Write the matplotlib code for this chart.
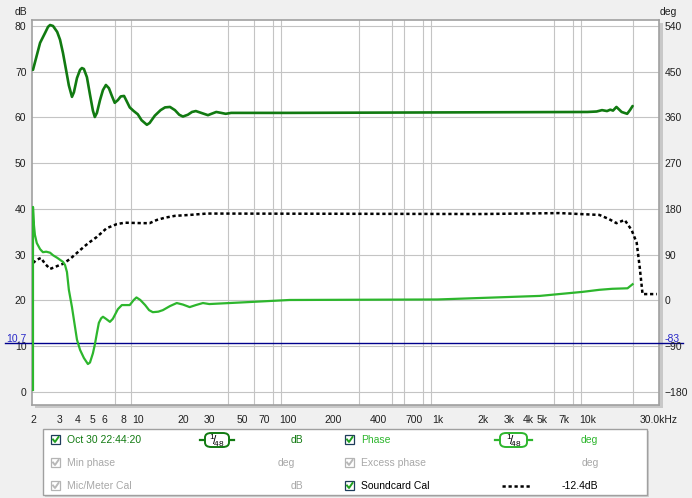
import numpy as np
import matplotlib
matplotlib.use("Agg")
import matplotlib.pyplot as plt
from matplotlib.patches import Rectangle, FancyBboxPatch
from matplotlib.lines import Line2D
from matplotlib.ticker import FixedLocator, LogLocator, NullFormatter

plt.rcParams['font.family'] = ['Liberation Sans', 'DejaVu Sans']

# ---- data ----
# SPL measurement (left axis, dB)
spl_freq = [2.0, 2.23, 2.41, 2.52, 2.6, 2.72, 2.9, 3.03, 3.17, 3.32, 3.47, 3.64, 3.75,
            3.93, 4.12, 4.24, 4.37, 4.58, 4.8, 5.02, 5.17, 5.34, 5.6, 5.86, 6.13, 6.42,
            6.72, 7.02, 7.37, 7.7, 8.1, 8.45, 8.84, 9.4, 10.0, 10.6, 11.5, 12.0, 13.0,
            14.2, 15.2, 16.4, 17.7, 18.9, 20.0, 21.6, 23.0, 24.4, 26.5, 29.4, 31.0,
            33.4, 36.0, 38.6, 42, 100, 1000, 10000, 11500, 12500, 13500, 14200,
            14800, 15600, 16900, 18400, 19200, 20000]
spl_db = [70.4, 76.3, 78.5, 79.8, 80.2, 80.0, 78.7, 77.0, 74.1, 70.5, 67.0, 64.5, 65.5,
          68.6, 70.4, 70.8, 70.6, 68.8, 65.0, 61.5, 60.1, 61.0, 63.8, 66.0, 67.1, 66.4,
          64.7, 63.2, 63.8, 64.6, 64.7, 63.5, 62.2, 61.4, 60.7, 59.4, 58.4, 58.8, 60.4,
          61.6, 62.2, 62.3, 61.6, 60.6, 60.2, 60.6, 61.2, 61.4, 61.0, 60.5, 60.8,
          61.2, 61.0, 60.8, 61.0, 61.0, 61.1, 61.2, 61.3, 61.6, 61.4, 61.7,
          61.5, 62.3, 61.2, 60.8, 61.6, 62.5]

# Phase (right axis, degrees)
phase_freq = [2.0, 2.0, 2.0, 2.03, 2.06, 2.12, 2.23, 2.33, 2.45, 2.6, 2.72, 2.9, 3.03,
              3.17, 3.27, 3.37, 3.47, 3.64, 3.8, 3.93, 4.12, 4.37, 4.65, 4.8, 5.02,
              5.17, 5.34, 5.5, 5.7, 5.86, 6.13, 6.52, 6.82, 7.02, 7.37, 7.83, 8.3,
              8.84, 9.4, 9.8, 10.4, 11.2, 11.9, 12.6, 13.7, 14.7, 16.4, 18.2, 20.0,
              22.2, 24.4, 27.2, 30, 35, 48, 103, 1000, 4800, 9300, 12000, 14600,
              18500, 20000]
phase_deg = [-176, -147, 184, 148, 129, 113, 101, 95, 96, 94, 89, 84, 80,
             76, 70, 56, 21, -13, -49, -77, -97, -113, -125, -122, -104,
             -87, -64, -44, -35, -32, -36, -42, -36, -29, -17, -9, -9,
             -9, 1, 6, 1, -9, -19, -23, -22, -19, -11, -5, -8,
             -13, -9, -5, -7, -6, -4, 1, 2, 9, 17, 21, 23,
             24, 32]

# Soundcard calibration (left axis, dB)
cal_freq = [2.0, 2.12, 2.26, 2.41, 2.6, 2.8, 3.03, 3.17, 3.54, 3.93, 4.43, 4.8, 5.34,
            6.2, 7.26, 8.2, 10.8, 12.0, 13.4, 15.2, 17.7, 22.2, 28.9, 2000, 6500,
            12000, 13900, 15600, 17700, 19700, 21300, 22300, 23300, 29000]
cal_db = [28.2, 28.9, 29.3, 28.0, 26.9, 27.3, 27.8, 28.0, 29.1, 30.4, 31.9, 32.8, 33.9,
          35.8, 36.7, 37.0, 36.9, 36.9, 37.6, 38.1, 38.5, 38.7, 39.0, 38.9, 39.1,
          38.7, 37.8, 36.9, 37.6, 35.4, 32.6, 27.3, 21.4, 21.4]

marker_db = 10.7
marker_deg = -83

x_ticks = [2, 3, 4, 5, 6, 8, 10, 20, 30, 50, 70, 100, 200, 400, 700, 1000, 2000,
           3000, 4000, 5000, 7000, 10000, 30000]
x_labels = ['2', '3', '4', '5', '6', '8', '10', '20', '30', '50', '70', '100', '200',
            '400', '700', '1k', '2k', '3k', '4k', '5k', '7k', '10k', '30.0kHz']
db_ticks = [0, 10, 20, 30, 40, 50, 60, 70, 80]
deg_ticks = [-180, -90, 0, 90, 180, 270, 360, 450, 540]

SPL_COL = '#117a11'
PH_COL = '#2db62d'
GRID = '#c4c4c4'
FS = 7.5

W, H = 692, 498
fig = plt.figure(figsize=(W / 100, H / 100), dpi=100, facecolor='#f0f0f0')


def fx(x):
    return x / W


def fy(y):
    return 1 - y / H


# frame shadow
fig.patches.append(Rectangle((fx(35), fy(408)), (663 - 35) / W, (408 - 23) / H,
                             transform=fig.transFigure, facecolor='#c8c8c8',
                             edgecolor='none', zorder=-1))

ax = fig.add_axes([fx(32), fy(405), (659 - 32) / W, (405 - 20) / H])
ax.set_facecolor('white')
ax.set_xscale('log')
ax.set_xlim(1.97, 30000)
lo, hi = -2.84, 81.3
ax.set_ylim(lo, hi)

ax.xaxis.set_major_locator(FixedLocator(x_ticks))
ax.set_xticklabels(x_labels)
ax.xaxis.set_minor_locator(LogLocator(base=10, subs=np.arange(1, 10), numticks=50))
ax.xaxis.set_minor_formatter(NullFormatter())
ax.set_yticks(db_ticks)
ax.tick_params(which='both', length=0, labelsize=FS, colors='#202020')
ax.tick_params(axis='x', pad=7)
ax.tick_params(axis='y', pad=4)
ax.grid(which='minor', axis='x', color=GRID, lw=0.8)
ax.grid(which='major', axis='y', color=GRID, lw=0.8)
for s in ax.spines.values():
    s.set_color('#a0a0a0')
    s.set_linewidth(1.2)

ax.plot(cal_freq, cal_db, color='black', lw=1.8, ls=(0, (1.3, 1.1)), zorder=3)
ax.plot(spl_freq, spl_db, color=SPL_COL, lw=1.9, zorder=4,
        solid_capstyle='round', solid_joinstyle='round')

ax2 = ax.twinx()
ax2.set_ylim(9 * lo - 180, 9 * hi - 180)
ax2.set_yticks(deg_ticks)
ax2.tick_params(length=0, labelsize=FS, colors='#202020', pad=4)
for s in ax2.spines.values():
    s.set_visible(False)
ax2.plot(phase_freq, phase_deg, color=PH_COL, lw=1.6, zorder=4,
         solid_joinstyle='round')

# marker line
ax.axhline(marker_db, xmin=(5 - 32) / 627, xmax=(683 - 32) / 627, color='#00008c',
           lw=1, clip_on=False, zorder=5)
ax.annotate('%.1f' % marker_db, xy=(0, marker_db), xycoords=('axes fraction', 'data'),
            xytext=(-4, -1), textcoords='offset points', ha='right', va='bottom',
            color='#2828c8', fontsize=FS)
ax2.annotate('%d' % marker_deg, xy=(1, marker_deg), xycoords=('axes fraction', 'data'),
             xytext=(4, -1), textcoords='offset points', ha='left', va='bottom',
             color='#2828c8', fontsize=FS)

fig.text(fx(15), fy(12), 'dB', fontsize=FS, va='center', ha='left', color='#202020')
fig.text(fx(660), fy(12), 'deg', fontsize=FS, va='center', ha='left', color='#202020')

# ---- legend panel ----
fig.patches.append(Rectangle((fx(45), fy(497)), (649 - 45) / W, (497 - 431) / H,
                             transform=fig.transFigure, facecolor='#d0d0d0',
                             edgecolor='none', zorder=1))
fig.patches.append(Rectangle((fx(43), fy(495)), (647 - 43) / W, (495 - 429) / H,
                             transform=fig.transFigure, facecolor='white',
                             edgecolor='#a0a0a0', lw=1, zorder=2))


def checkbox(x, y, active):
    edge = '#1e3c5a' if active else '#b4b4b4'
    tick = '#1fa01f' if active else '#b8b8b8'
    fig.patches.append(Rectangle((fx(x), fy(y + 9)), 9 / W, 9 / H, transform=fig.transFigure,
                                 facecolor='white', edgecolor=edge, lw=0.9, zorder=3))
    fig.lines.append(Line2D([fx(x + 2), fx(x + 4), fx(x + 7.5)],
                            [fy(y + 4.5), fy(y + 7), fy(y + 2)],
                            transform=fig.transFigure, color=tick, lw=1.4, zorder=4))


def badge(x0, x1, y, col):
    fig.lines.append(Line2D([fx(x0), fx(x1)], [fy(y), fy(y)], transform=fig.transFigure,
                            color=col, lw=1.6, zorder=3))
    fig.patches.append(FancyBboxPatch((fx(x0 + 5), fy(y + 7)), (x1 - x0 - 10) / W, 14 / H,
                                      boxstyle='round,pad=0,rounding_size=0.009',
                                      transform=fig.transFigure, facecolor='white',
                                      edgecolor=col, lw=1.4, zorder=4))
    xm = (x0 + x1) / 2
    fig.text(fx(xm), fy(y), r'$\mathregular{^1\!/\!_{48}}$', fontsize=8.5,
             ha='center', va='center', zorder=5)


rows = [440, 463, 486]
gray = '#a8a8a8'
col1 = [('Oct 30 22:44:20', SPL_COL, True, 'dB', 303),
        ('Min phase', gray, False, 'deg', 295),
        ('Mic/Meter Cal', gray, False, 'dB', 303)]
col2 = [('Phase', PH_COL, True, 'deg', 598),
        ('Excess phase', gray, False, 'deg', 599),
        ('Soundcard Cal', 'black', True, '-12.4dB', 598)]

for y, (name, c, act, unit, ux) in zip(rows, col1):
    checkbox(51, y - 5, act)
    fig.text(fx(67), fy(y), name, fontsize=FS, color=c, va='center', ha='left')
    fig.text(fx(ux), fy(y), unit, fontsize=FS, color=c, va='center', ha='right')
for y, (name, c, act, unit, ux) in zip(rows, col2):
    checkbox(345, y - 5, act)
    fig.text(fx(361), fy(y), name, fontsize=FS, color=c, va='center', ha='left')
    fig.text(fx(ux), fy(y), unit, fontsize=FS, color=c, va='center', ha='right')

badge(200, 234, rows[0], SPL_COL)
badge(495, 532, rows[0], PH_COL)
fig.lines.append(Line2D([fx(502), fx(530)], [fy(rows[2]), fy(rows[2])],
                        transform=fig.transFigure, color='black', lw=1.8,
                        ls=(0, (1.3, 1.1)), zorder=3))

fig.savefig('out.png', dpi=100, facecolor=fig.get_facecolor())
